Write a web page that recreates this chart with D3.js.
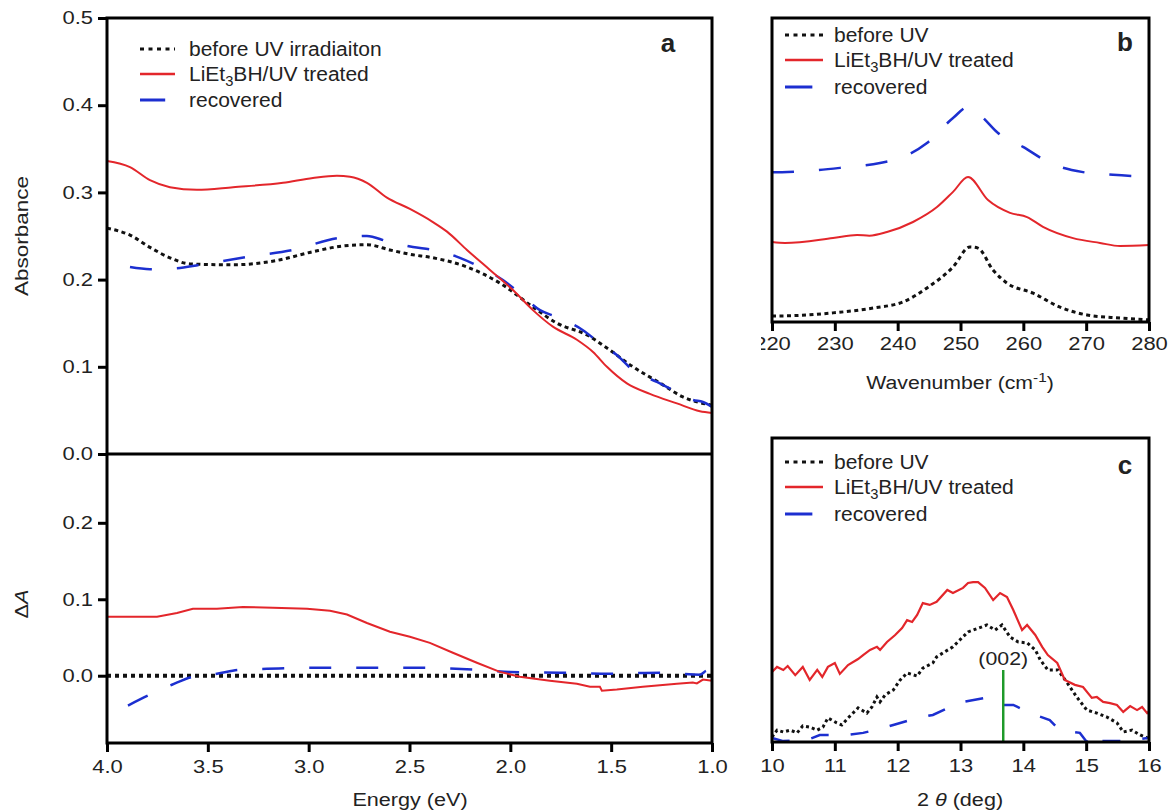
<!DOCTYPE html>
<html><head><meta charset="utf-8">
<script src="https://cdn.jsdelivr.net/npm/d3@7"></script>
<style>
body{margin:0;background:#fff;}
text{font-family:"Liberation Sans",Arial,sans-serif;fill:#222;}
</style></head>
<body><svg id="c" width="1169" height="811"></svg>
<script>
// ---------- DATA ----------
// Panel a (upper): absorbance vs energy [E, A]
const aBefore = [[4.0,0.259],[3.886,0.251],[3.787,0.237],[3.688,0.225],[3.589,0.218],[3.375,0.217],[3.157,0.222],[2.979,0.232],[2.830,0.2385],[2.711,0.240],[2.597,0.234],[2.498,0.229],[2.384,0.225],[2.215,0.2145],[2.052,0.196],[1.888,0.1686],[1.769,0.150],[1.620,0.1365],[1.521,0.1216],[1.392,0.100],[1.258,0.0814],[1.144,0.0654],[1.0,0.056]];
const aTreated = [[4.0,0.336],[3.886,0.329],[3.787,0.314],[3.688,0.306],[3.554,0.303],[3.375,0.306],[3.127,0.311],[2.979,0.3165],[2.860,0.319],[2.795,0.318],[2.711,0.311],[2.612,0.294],[2.498,0.281],[2.384,0.266],[2.314,0.255],[2.215,0.234],[2.101,0.211],[1.987,0.188],[1.888,0.165],[1.789,0.146],[1.670,0.131],[1.590,0.117],[1.521,0.100],[1.422,0.081],[1.308,0.069],[1.174,0.058],[1.060,0.049],[1.0,0.047]];
const aRecovered = [[3.886,0.2144],[3.787,0.212],[3.653,0.213],[3.539,0.217],[3.306,0.226],[3.078,0.234],[2.845,0.248],[2.711,0.250],[2.612,0.244],[2.483,0.2374],[2.384,0.234],[2.250,0.225],[2.151,0.2145],[2.037,0.1995],[1.962,0.186],[1.853,0.165],[1.769,0.157],[1.640,0.142],[1.556,0.127],[1.472,0.1135],[1.392,0.096],[1.273,0.0826],[1.174,0.071],[1.095,0.062],[1.045,0.0596],[1.0,0.054]];
// Panel a (lower): difference spectra [E, dA]
const dBefore = [[4.0,0],[1.0,0]];
const dTreated = [[4.0,0.077],[3.886,0.077],[3.752,0.077],[3.653,0.082],[3.574,0.0876],[3.455,0.0876],[3.326,0.090],[3.177,0.089],[3.008,0.0876],[2.894,0.085],[2.810,0.080],[2.711,0.069],[2.597,0.0575],[2.498,0.051],[2.399,0.043],[2.285,0.030],[2.166,0.017],[2.052,0.005],[1.953,-0.0013],[1.804,-0.0065],[1.670,-0.0105],[1.605,-0.0144],[1.556,-0.0144],[1.546,-0.0196],[1.472,-0.018],[1.343,-0.0144],[1.174,-0.0105],[1.095,-0.009],[1.075,-0.010],[1.045,-0.005],[1.0,-0.0065]];
const dRecovered = [[3.896,-0.039],[3.797,-0.026],[3.678,-0.0118],[3.574,-0.0013],[3.455,0.0026],[3.341,0.0078],[3.207,0.009],[2.979,0.0105],[2.746,0.0105],[2.513,0.0105],[2.166,0.0078],[2.002,0.005],[1.754,0.004],[1.506,0.0026],[1.258,0.004],[1.060,0.0013],[1.025,0.0065],[1.0,0.005]];
// Panel b: intensity (a.u.) vs wavenumber
const bBefore = [[220,0.020],[220.95,0.020],[229.71,0.030],[236.08,0.046],[240.85,0.066],[244.67,0.112],[248.81,0.181],[251.51,0.247],[252.79,0.243],[255.17,0.171],[257.40,0.128],[261.54,0.095],[265.84,0.049],[270.14,0.023],[275.39,0.013],[280,0.007]];
const bTreated = [[220,0.263],[222.07,0.260],[229.71,0.276],[233.53,0.286],[235.5,0.284],[238.30,0.296],[242.44,0.329],[246.26,0.378],[248.81,0.428],[251.20,0.477],[254.38,0.401],[257.88,0.359],[260.59,0.345],[263.13,0.313],[267.91,0.276],[272.20,0.260],[275.39,0.250],[280,0.253]];
const bRecovered = [[220,0.493],[221.59,0.493],[225.57,0.497],[230.82,0.507],[237.19,0.523],[240.37,0.539],[244.67,0.589],[248.81,0.671],[251.20,0.707],[253.11,0.681],[255.97,0.622],[259.95,0.576],[264.25,0.523],[269.50,0.493],[274.27,0.484],[280,0.477]];
// Panel c: XRD intensity (a.u.) vs 2theta
const cBefore = [[10.0,1.6],[10.08,3.9],[10.18,3.3],[10.29,3.9],[10.40,3.0],[10.49,5.3],[10.60,4.9],[10.72,3.9],[10.81,4.9],[10.89,7.9],[11.03,6.3],[11.11,5.6],[11.21,7.9],[11.37,11.2],[11.51,9.5],[11.59,11.5],[11.67,14.8],[11.72,13.2],[11.80,15.5],[11.93,17.1],[12.04,20.4],[12.15,22.7],[12.31,21.7],[12.40,24.3],[12.56,26.0],[12.62,28.0],[12.72,29.3],[12.88,31.3],[13.02,34.2],[13.12,36.2],[13.20,36.8],[13.42,38.5],[13.55,36.8],[13.66,38.5],[13.79,34.5],[13.92,32.9],[14.06,32.6],[14.19,30.3],[14.27,27.0],[14.39,23.7],[14.55,23.7],[14.70,19.4],[14.85,14.8],[15.01,10.5],[15.17,9.5],[15.33,8.2],[15.49,6.3],[15.59,3.3],[15.73,3.9],[15.86,2.3],[15.98,1.3]];
const cTreated = [[10.0,23.0],[10.08,24.7],[10.18,23.7],[10.25,25.0],[10.37,22.0],[10.49,24.7],[10.60,20.4],[10.72,23.7],[10.80,21.4],[10.89,24.7],[11.0,26.0],[11.08,22.4],[11.21,25.3],[11.37,27.3],[11.45,28.6],[11.56,30.3],[11.67,31.3],[11.72,30.3],[11.83,32.9],[11.96,35.2],[12.07,37.5],[12.15,40.1],[12.23,39.5],[12.31,41.8],[12.40,45.7],[12.51,45.1],[12.62,46.1],[12.79,50.0],[12.88,49.0],[13.04,50.7],[13.12,52.3],[13.20,52.6],[13.28,52.6],[13.39,50.7],[13.52,46.7],[13.63,49.0],[13.74,47.7],[13.84,43.4],[13.98,36.8],[14.06,38.5],[14.19,35.2],[14.30,31.3],[14.39,28.6],[14.54,26.0],[14.66,20.4],[14.82,18.8],[14.95,18.1],[15.09,14.5],[15.17,14.8],[15.27,13.2],[15.38,12.8],[15.49,12.2],[15.59,9.9],[15.70,11.8],[15.81,10.5],[15.89,11.5],[15.97,9.5],[16.0,10.2]];
const cRecovered = [[10.0,1.3],[10.18,0.3],[10.56,0.7],[10.76,2.3],[11.19,2.3],[11.45,3.0],[11.77,4.6],[11.93,5.6],[12.31,7.9],[12.56,8.9],[12.83,11.5],[13.04,13.2],[13.39,14.5],[13.52,12.2],[13.84,12.2],[14.11,9.5],[14.42,7.2],[14.58,3.9],[14.90,3.0],[15.01,0],[15.17,3.0],[15.25,0.3],[15.54,0.3],[15.98,1.3]];
const peak002 = 13.68;
// Tick labels
const aXTicks = [4.0,3.5,3.0,2.5,2.0,1.5,1.0];
const aYTicks = [0.0,0.1,0.2,0.3,0.4,0.5];
const dYTicks = [0.0,0.1,0.2];
const bXTicks = [220,230,240,250,260,270,280];
const cXTicks = [10,11,12,13,14,15,16];
const legendA = ["before UV irradiaiton","LiEt|3|BH/UV treated","recovered"];
const legendBC = ["before UV","LiEt|3|BH/UV treated","recovered"];

// ---------- STYLE ----------
const RED="#e3262b", BLUE="#1c2fd0", BLACK="#111", GREEN="#1f9a2a";
const svg = d3.select("#c");
svg.append("rect").attr("width",1169).attr("height",811).attr("fill","#fff");

// the reference lettering is slightly wide: stretch text horizontally
function stretch(sel,f){
  sel.each(function(){
    const L=this.getComputedTextLength();
    d3.select(this).attr("textLength",L*f).attr("lengthAdjust","spacingAndGlyphs");
  });
}
function styleAxis(g){
  g.select(".domain").remove();
  g.selectAll(".tick line").attr("stroke","#000").attr("stroke-width",3);
  g.selectAll(".tick text").style("font-size","18px").attr("fill","#222");
  stretch(g.selectAll(".tick text"),1.22);
}
function frame(x0,y0,x1,y1){
  svg.append("rect").attr("x",x0).attr("y",y0).attr("width",x1-x0).attr("height",y1-y0)
    .attr("fill","none").attr("stroke","#000").attr("stroke-width",3);
}
function path(data,x,y,color,width,dash,curve){
  svg.append("path").datum(data).attr("fill","none").attr("stroke",color)
    .attr("stroke-width",width).attr("stroke-dasharray",dash||null)
    .attr("d",d3.line().x(d=>x(d[0])).y(d=>y(d[1])).curve(curve||d3.curveLinear));
}
function legendText(sel,str){
  const p=str.split("|");
  sel.append("tspan").text(p[0]);
  if(p.length>1){
    sel.append("tspan").attr("dy",5).style("font-size","14px").text(p[1]);
    sel.append("tspan").attr("dy",-5).text(p[2]);
  }
}
function legend(x0,x1,xt,ys,labels){
  const st=[[BLACK,3,"4,4.5",x1],[RED,2.5,null,x1],[BLUE,3,null,x0+(x1-x0)*0.72]];
  labels.forEach((l,i)=>{
    svg.append("line").attr("x1",x0).attr("x2",st[i][3]).attr("y1",ys[i]).attr("y2",ys[i])
      .attr("stroke",st[i][0]).attr("stroke-width",st[i][1]).attr("stroke-dasharray",st[i][2]);
    const t=svg.append("text").attr("x",xt).attr("y",ys[i]+7).style("font-size","20px");
    legendText(t,l);
    stretch(t,1.05);
  });
}
function title(x,y,rot,parts,f){
  const t=svg.append("text").attr("transform",`translate(${x},${y})`+(rot?" rotate(-90)":""))
    .attr("text-anchor","middle").style("font-size","18px");
  parts.forEach(p=>{
    const s=t.append("tspan").text(p.t);
    if(p.i) s.style("font-style","italic");
    if(p.sup) s.attr("dy",-7).style("font-size","13px");
    if(p.back) s.attr("dy",7);
  });
  stretch(t,f);
  return t;
}

// ---------- PANEL A ----------
const xA = d3.scaleLinear().domain([4,1]).range([107,712]);
const yA = d3.scaleLinear().domain([0,0.5]).range([454,18]);
const yD = d3.scaleLinear().domain([-0.088,0.29]).range([743,454]);

path(aBefore,xA,yA,BLACK,3,"4,3.5",d3.curveMonotoneX);
path(aRecovered,xA,yA,BLUE,2.5,"22,25",d3.curveMonotoneX);
path(aTreated,xA,yA,RED,2,null,d3.curveMonotoneX);

path(dBefore,xA,yD,BLACK,4,"4,4");
path(dRecovered,xA,yD,BLUE,2.5,"22,25",d3.curveMonotoneX);
path(dTreated,xA,yD,RED,2,null);

frame(107,18,712,743);
svg.append("line").attr("x1",107).attr("x2",712).attr("y1",454).attr("y2",454).attr("stroke","#000").attr("stroke-width",3);

svg.append("g").attr("transform","translate(0,743)")
  .call(d3.axisBottom(xA).tickValues(aXTicks).tickFormat(d3.format(".1f")).tickSize(9).tickPadding(8)).call(styleAxis);
svg.append("g").attr("transform","translate(107,0)")
  .call(d3.axisLeft(yA).tickValues(aYTicks).tickFormat(d3.format(".1f")).tickSize(9).tickPadding(5)).call(styleAxis);
svg.append("g").attr("transform","translate(107,0)")
  .call(d3.axisLeft(yD).tickValues(dYTicks).tickFormat(d3.format(".1f")).tickSize(9).tickPadding(5)).call(styleAxis);

title(410,806,false,[{t:"Energy (eV)"}],1.2);
title(28,236,true,[{t:"Absorbance"}],1.25);
title(28,604,true,[{t:"Δ"},{t:"A",i:true}],1.2);
svg.append("text").attr("x",668).attr("y",52).attr("text-anchor","middle").style("font-size","26px").style("font-weight","bold").text("a");
legend(140,175,189,[49,74,100],legendA);

// ---------- PANEL B ----------
const xB = d3.scaleLinear().domain([220,280]).range([772,1149]);
const yB = d3.scaleLinear().domain([0,1]).range([322,18]);
path(bBefore,xB,yB,BLACK,3,"4,3.5",d3.curveMonotoneX);
path(bRecovered,xB,yB,BLUE,2.5,"22,25",d3.curveMonotoneX);
path(bTreated,xB,yB,RED,2,null,d3.curveMonotoneX);
frame(772,18,1149,322);
svg.append("clipPath").attr("id","clipb").append("rect").attr("x",761).attr("y",-5).attr("width",420).attr("height",60);
svg.append("g").attr("transform","translate(0,322)").attr("clip-path","url(#clipb)")
  .call(d3.axisBottom(xB).tickValues(bXTicks).tickFormat(d3.format("d")).tickSize(9).tickPadding(6)).call(styleAxis);
title(960,389,false,[{t:"Wavenumber (cm"},{t:"-1",sup:true},{t:")",back:true}],1.18);
svg.append("text").attr("x",1125).attr("y",51).attr("text-anchor","middle").style("font-size","26px").style("font-weight","bold").text("b");
legend(785,823,834,[35,60,87],legendBC);

// ---------- PANEL C ----------
const xC = d3.scaleLinear().domain([10,16]).range([772,1149]);
const yC = d3.scaleLinear().domain([0,100]).range([742,438]);
path(cBefore,xC,yC,BLACK,3,"3,3");
path(cRecovered,xC,yC,BLUE,2.5,"18,22");
path(cTreated,xC,yC,RED,2.2,null);
svg.append("line").attr("x1",xC(peak002)).attr("x2",xC(peak002)).attr("y1",670).attr("y2",742)
  .attr("stroke",GREEN).attr("stroke-width",2.5);
const p2 = svg.append("text").attr("x",xC(peak002)).attr("y",665).attr("text-anchor","middle").style("font-size","19px").text("(002)");
stretch(p2,1.12);
frame(772,438,1149,742);
svg.append("g").attr("transform","translate(0,742)")
  .call(d3.axisBottom(xC).tickValues(cXTicks).tickFormat(d3.format("d")).tickSize(9).tickPadding(8)).call(styleAxis);
title(960,806,false,[{t:"2 "},{t:"θ",i:true},{t:" (deg)"}],1.2);
svg.append("text").attr("x",1125).attr("y",474).attr("text-anchor","middle").style("font-size","26px").style("font-weight","bold").text("c");
legend(785,823,834,[462,487,514],legendBC);
</script></body></html>
